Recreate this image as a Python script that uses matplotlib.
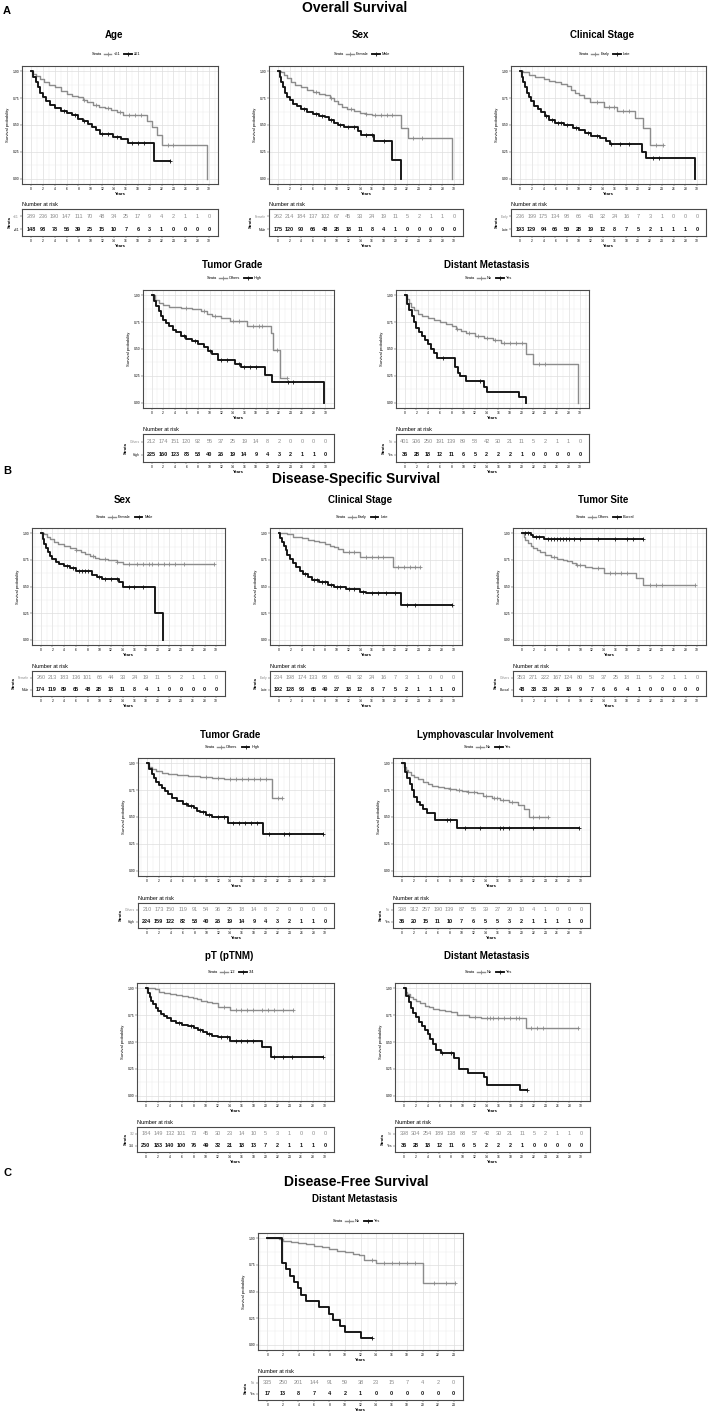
import numpy as np
import matplotlib
matplotlib.use('Agg')
import matplotlib.pyplot as plt
from matplotlib.lines import Line2D
from matplotlib.ticker import MultipleLocator

plt.rcParams['font.family'] = ['Liberation Sans', 'DejaVu Sans']

# ---------------------------------------------------------------- data
# Overall survival - Age
os_age_labels = ['<61', '≥61']
os_age_t1 = [0, 0.3, 0.8, 1.5, 2.2, 3, 4, 5, 6, 7, 8, 8.7, 9.5, 10.5, 11.5, 12.5, 13.5, 14.5, 15.5, 19.6, 20.4, 21.2, 22, 29.7]
os_age_s1 = [1.0, 0.98, 0.96, 0.93, 0.90, 0.87, 0.85, 0.82, 0.79, 0.77, 0.76, 0.73, 0.71, 0.69, 0.67, 0.66, 0.64, 0.62, 0.59, 0.54, 0.48, 0.41, 0.31, 0.0]
os_age_c1 = [9, 11, 13, 15, 16.5, 17.5, 18.5, 23, 24]
os_age_t2 = [0, 0.4, 0.8, 1.2, 1.6, 2.0, 2.6, 3.2, 4, 5, 6, 7, 8, 8.8, 9.6, 10.3, 11, 11.6, 13.8, 15.2, 16.4, 20.7, 23.5]
os_age_s2 = [1.0, 0.95, 0.90, 0.85, 0.80, 0.76, 0.72, 0.69, 0.66, 0.63, 0.61, 0.59, 0.56, 0.54, 0.51, 0.48, 0.45, 0.42, 0.39, 0.37, 0.33, 0.16, 0.16]
os_age_c2 = [5.5, 7.5, 9, 12, 13, 14.5, 17, 18, 19, 23.5]
os_age_r1 = [289, 236, 190, 147, 111, 70, 48, 34, 25, 17, 9, 4, 2, 1, 1, 0]
os_age_r2 = [148, 98, 78, 56, 39, 25, 15, 10, 7, 6, 3, 1, 0, 0, 0, 0]

# Overall survival - Sex
os_sex_labels = ['Female', 'Male']
os_sex_t1 = [0, 0.5, 1, 1.5, 2.2, 3, 4, 5, 6, 7, 8, 8.8, 9.5, 10.3, 11, 11.8, 13, 14, 15, 16, 20.9, 22.2, 29.7]
os_sex_s1 = [1, 0.99, 0.97, 0.94, 0.90, 0.87, 0.85, 0.83, 0.81, 0.79, 0.78, 0.75, 0.72, 0.70, 0.67, 0.65, 0.63, 0.61, 0.60, 0.59, 0.47, 0.38, 0]
os_sex_c1 = [6.5, 9, 12.5, 15, 16.5, 17.5, 18.5, 19.5, 23, 24.5]
os_sex_t2 = [0, 0.3, 0.6, 0.9, 1.2, 1.6, 2, 2.6, 3.2, 4, 5, 6, 7, 8, 8.7, 9.5, 10.3, 11.2, 13.6, 14.2, 16.4, 19.5, 20.9]
os_sex_s2 = [1, 0.95, 0.90, 0.85, 0.80, 0.76, 0.73, 0.70, 0.68, 0.65, 0.62, 0.60, 0.58, 0.57, 0.55, 0.52, 0.50, 0.48, 0.44, 0.41, 0.35, 0.17, 0]
os_sex_c2 = [4.5, 6.5, 7.5, 9, 10.5, 12, 13, 15, 16, 18]
os_sex_r1 = [262, 214, 184, 137, 102, 67, 45, 33, 24, 19, 11, 5, 2, 1, 1, 0]
os_sex_r2 = [175, 120, 90, 66, 48, 28, 18, 11, 8, 4, 1, 0, 0, 0, 0, 0]

# Overall survival - Clinical stage
os_stage_labels = ['Early', 'Late']
os_stage_t1 = [0, 0.5, 1.5, 2.5, 4, 5, 6, 7, 8, 8.7, 9.3, 10, 10.8, 11.8, 14.2, 16.4, 19.5, 20.8, 22, 24.2]
os_stage_s1 = [1, 0.99, 0.97, 0.95, 0.93, 0.91, 0.90, 0.88, 0.86, 0.83, 0.80, 0.78, 0.75, 0.71, 0.67, 0.635, 0.565, 0.47, 0.315, 0.315]
os_stage_c1 = [13, 15, 16, 17.5, 18.5, 23, 24.2]
os_stage_t2 = [0, 0.3, 0.6, 0.9, 1.2, 1.5, 1.9, 2.4, 3, 3.6, 4.2, 5, 6, 7.5, 9, 10, 11, 12, 13.5, 14.6, 15.2, 20.7, 21.4, 29.7]
os_stage_s2 = [1, 0.95, 0.90, 0.85, 0.80, 0.76, 0.72, 0.68, 0.65, 0.62, 0.58, 0.55, 0.52, 0.50, 0.47, 0.45, 0.43, 0.40, 0.38, 0.355, 0.325, 0.25, 0.19, 0]
os_stage_c2 = [4.5, 5.5, 6.5, 7, 8, 9.5, 11.5, 13, 15.5, 17, 18.5, 22.5, 23.5]
os_stage_r1 = [236, 199, 175, 134, 98, 66, 43, 32, 24, 16, 7, 3, 1, 0, 0, 0]
os_stage_r2 = [193, 129, 94, 66, 50, 28, 19, 12, 8, 7, 5, 2, 1, 1, 1, 0]

# Overall survival - Tumor grade
os_grade_labels = ['Others', 'High']
os_grade_t1 = [0, 0.5, 1.2, 2, 3, 5, 7, 8.5, 9.5, 10.5, 12, 13.5, 16.5, 20.7, 21, 22.2, 23.3]
os_grade_s1 = [1, 0.96, 0.93, 0.91, 0.89, 0.88, 0.87, 0.85, 0.83, 0.81, 0.79, 0.76, 0.71, 0.65, 0.49, 0.23, 0.23]
os_grade_c1 = [6, 9, 11, 14, 15, 17.5, 18.5, 19, 21.7, 23.3]
os_grade_t2 = [0, 0.4, 0.8, 1.2, 1.6, 2, 2.5, 3, 3.6, 4.2, 5, 6, 7, 8, 9, 9.8, 10.5, 11.4, 14.4, 15.4, 19.6, 20.8, 29.7]
os_grade_s2 = [1, 0.95, 0.90, 0.85, 0.81, 0.77, 0.74, 0.71, 0.68, 0.66, 0.62, 0.59, 0.57, 0.55, 0.52, 0.48, 0.45, 0.40, 0.36, 0.33, 0.26, 0.195, 0]
os_grade_c2 = [5.5, 7.5, 10, 12, 13, 15, 16, 17, 18, 23.5, 24.5]
os_grade_r1 = [212, 174, 151, 120, 92, 55, 37, 25, 19, 14, 8, 2, 0, 0, 0, 0]
os_grade_r2 = [225, 160, 123, 83, 58, 40, 26, 19, 14, 9, 4, 3, 2, 1, 1, 0]

# Overall survival - Distant metastasis
os_dm_labels = ['No', 'Yes']
os_dm_t1 = [0, 0.3, 0.7, 1.1, 1.5, 2.2, 3, 4, 5, 6, 7, 8, 8.8, 9.6, 10.5, 12, 13.5, 15, 16.5, 20.7, 22, 29.7]
os_dm_s1 = [1, 0.97, 0.93, 0.89, 0.86, 0.83, 0.81, 0.79, 0.77, 0.75, 0.73, 0.71, 0.69, 0.67, 0.65, 0.62, 0.60, 0.585, 0.56, 0.455, 0.36, 0]
os_dm_c1 = [9, 11, 12.5, 14, 15.5, 17, 18, 19, 20, 23, 24]
os_dm_t2 = [0, 0.4, 0.8, 1.2, 1.6, 2, 2.5, 3, 3.5, 4, 4.5, 5, 5.5, 8.6, 9.1, 9.5, 10.5, 13.6, 14, 19.5, 20.7]
os_dm_s2 = [1, 0.92, 0.86, 0.81, 0.75, 0.70, 0.66, 0.62, 0.58, 0.55, 0.50, 0.46, 0.42, 0.33, 0.28, 0.245, 0.205, 0.15, 0.10, 0.05, 0.0]
os_dm_c2 = [6.5, 12.8]
os_dm_r1 = [401, 306, 250, 191, 139, 89, 58, 42, 30, 21, 11, 5, 2, 1, 1, 0]
os_dm_r2 = [36, 28, 18, 12, 11, 6, 5, 2, 2, 2, 1, 0, 0, 0, 0, 0]

# Disease-specific survival - Sex
dss_sex_labels = ['Female', 'Male']
dss_sex_t1 = [0, 0.5, 1, 1.5, 2.2, 3, 4, 5, 6, 6.8, 7.6, 8.4, 9.2, 10, 11.5, 13, 14, 29.7]
dss_sex_s1 = [1, 0.99, 0.97, 0.95, 0.92, 0.90, 0.88, 0.86, 0.84, 0.82, 0.81, 0.79, 0.77, 0.76, 0.745, 0.73, 0.715, 0.715]
dss_sex_c1 = [6, 9, 11, 13, 15, 16.5, 17.5, 18.5, 19, 20, 21, 22, 23, 24.5, 29.7]
dss_sex_t2 = [0, 0.3, 0.6, 0.9, 1.2, 1.6, 2, 2.6, 3.2, 4, 5, 6, 8.7, 9.6, 10.4, 13.4, 14, 19.5, 20.9]
dss_sex_s2 = [1, 0.95, 0.90, 0.86, 0.82, 0.79, 0.76, 0.73, 0.71, 0.69, 0.67, 0.65, 0.61, 0.59, 0.575, 0.54, 0.495, 0.25, 0]
dss_sex_c2 = [4.5, 5.5, 6.5, 7, 7.5, 8, 10, 11, 12, 13, 15, 16, 17.5]
dss_sex_r1 = [260, 213, 183, 136, 101, 66, 44, 33, 24, 19, 11, 5, 2, 1, 1, 0]
dss_sex_r2 = [174, 119, 89, 65, 48, 28, 18, 11, 8, 4, 1, 0, 0, 0, 0, 0]

# Disease-specific survival - Clinical stage
dss_stage_labels = ['Early', 'Late']
dss_stage_t1 = [0, 1.5, 2.5, 4, 5, 6, 7, 8, 8.8, 9.5, 10.2, 11, 14, 19.6, 24.2]
dss_stage_s1 = [1, 0.99, 0.97, 0.96, 0.94, 0.93, 0.92, 0.90, 0.88, 0.87, 0.85, 0.825, 0.775, 0.68, 0.68]
dss_stage_c1 = [12, 13, 15, 16, 17, 18, 20.5, 21.5, 22.5, 23.5, 24.2]
dss_stage_t2 = [0, 0.3, 0.6, 0.9, 1.2, 1.5, 1.9, 2.4, 3, 3.6, 4.2, 5, 5.7, 7, 8.5, 9.5, 11.5, 14, 15, 21, 29.7]
dss_stage_s2 = [1, 0.96, 0.92, 0.88, 0.84, 0.80, 0.76, 0.72, 0.68, 0.65, 0.62, 0.59, 0.56, 0.545, 0.515, 0.50, 0.48, 0.45, 0.44, 0.33, 0.33]
dss_stage_c2 = [4.5, 6, 6.5, 7.5, 8, 9, 10, 10.5, 12, 13, 14.5, 16, 17, 18.5, 20, 22, 23.5, 29.7]
dss_stage_r1 = [234, 198, 174, 133, 98, 66, 43, 32, 24, 16, 7, 3, 1, 0, 0, 0]
dss_stage_r2 = [192, 128, 93, 65, 49, 27, 18, 12, 8, 7, 5, 2, 1, 1, 1, 0]

# Disease-specific survival - Tumor site
dss_site_labels = ['Others', 'Buccal']
dss_site_t1 = [0, 0.3, 0.6, 1, 1.5, 2, 2.6, 3.2, 4, 5, 6, 7, 7.8, 8.6, 9.2, 10.8, 12, 14, 19.5, 20.8, 29.7]
dss_site_s1 = [1, 0.97, 0.94, 0.91, 0.88, 0.86, 0.84, 0.82, 0.80, 0.78, 0.76, 0.75, 0.74, 0.72, 0.70, 0.685, 0.67, 0.625, 0.58, 0.51, 0.51]
dss_site_c1 = [5.5, 9.5, 10, 13, 15, 16, 17, 18, 22, 23, 24, 29.7]
dss_site_t2 = [0, 1.6, 1.9, 3.8, 20.8]
dss_site_s2 = [1, 0.985, 0.97, 0.95, 0.95]
dss_site_c2 = [0.5, 1, 2.5, 3, 4.5, 5, 5.5, 6, 6.5, 7, 7.5, 8, 9, 10, 13, 16, 18, 19, 20.8]
dss_site_r1 = [353, 271, 222, 167, 124, 80, 53, 37, 25, 18, 11, 5, 2, 1, 1, 0]
dss_site_r2 = [48, 38, 33, 24, 18, 9, 7, 6, 6, 4, 1, 0, 0, 0, 0, 0]

# Disease-specific survival - Tumor grade
dss_grade_labels = ['Others', 'High']
dss_grade_t1 = [0, 0.4, 0.8, 1.5, 2.5, 3.5, 5, 7, 9, 11, 13, 21, 22.8]
dss_grade_s1 = [1, 0.97, 0.95, 0.93, 0.91, 0.90, 0.89, 0.88, 0.87, 0.86, 0.85, 0.68, 0.68]
dss_grade_c1 = [10, 12, 14, 15, 16, 17, 18, 19, 20, 22, 22.8]
dss_grade_t2 = [0, 0.4, 0.8, 1.2, 1.6, 2, 2.5, 3, 3.6, 4.2, 5, 6, 7, 8, 8.5, 9, 10, 11, 13.7, 19.6, 29.7]
dss_grade_s2 = [1, 0.95, 0.90, 0.86, 0.83, 0.80, 0.77, 0.74, 0.71, 0.68, 0.65, 0.62, 0.60, 0.585, 0.56, 0.55, 0.52, 0.50, 0.44, 0.34, 0.34]
dss_grade_c2 = [6.5, 7.5, 9.5, 10.5, 12, 13, 14.5, 15.5, 16.5, 17.5, 18.5, 20.5, 23, 24, 29.7]
dss_grade_r1 = [210, 173, 150, 119, 91, 54, 36, 25, 18, 14, 8, 2, 0, 0, 0, 0]
dss_grade_r2 = [224, 159, 122, 82, 58, 40, 26, 19, 14, 9, 4, 3, 2, 1, 1, 0]

# Disease-specific survival - Lymphovascular involvement
dss_lvi_labels = ['No', 'Yes']
dss_lvi_t1 = [0, 0.3, 0.6, 1, 1.5, 2, 2.7, 3.5, 4.3, 5, 6, 7, 8, 9, 10, 11, 12.5, 13.5, 15, 16.5, 18, 19.5, 20.5, 21.3, 24.5]
dss_lvi_s1 = [1, 0.97, 0.94, 0.92, 0.89, 0.87, 0.85, 0.83, 0.81, 0.79, 0.78, 0.77, 0.76, 0.75, 0.74, 0.73, 0.72, 0.70, 0.68, 0.66, 0.64, 0.61, 0.57, 0.50, 0.50]
dss_lvi_c1 = [8, 9.5, 11, 12, 14, 15.5, 16, 17, 18.5, 22, 23, 24.5]
dss_lvi_t2 = [0, 0.5, 0.9, 1.3, 1.6, 2, 2.5, 3, 3.5, 4.2, 5.5, 9.3, 29.7]
dss_lvi_s2 = [1, 0.92, 0.86, 0.81, 0.75, 0.69, 0.64, 0.61, 0.575, 0.54, 0.47, 0.40, 0.40]
dss_lvi_c2 = [7.5, 8, 10.5, 13, 16.5, 17, 18, 22, 29.7]
dss_lvi_r1 = [398, 312, 257, 190, 139, 87, 56, 39, 27, 20, 10, 4, 1, 0, 0, 0]
dss_lvi_r2 = [36, 20, 15, 11, 10, 7, 6, 5, 5, 3, 2, 1, 1, 1, 1, 0]

# Disease-specific survival - pT (pTNM)
dss_pt_labels = ['1/2', '3/4']
dss_pt_t1 = [0, 1.5, 2.2, 3, 4, 5, 6, 7, 7.8, 8.6, 9.3, 10.2, 11, 12, 14, 24.7]
dss_pt_s1 = [1, 0.99, 0.97, 0.96, 0.95, 0.94, 0.93, 0.92, 0.91, 0.90, 0.88, 0.87, 0.86, 0.83, 0.80, 0.80]
dss_pt_c1 = [13, 15, 16, 17, 18, 19.5, 20.5, 21.5, 23, 24.7]
dss_pt_t2 = [0, 0.3, 0.6, 0.9, 1.2, 1.6, 2, 2.5, 3, 3.6, 4.2, 5, 6, 7, 8, 8.8, 9.5, 10.3, 11, 12, 14, 19.5, 21, 29.7]
dss_pt_s2 = [1, 0.96, 0.92, 0.88, 0.85, 0.82, 0.79, 0.76, 0.74, 0.72, 0.70, 0.68, 0.66, 0.645, 0.63, 0.61, 0.59, 0.575, 0.56, 0.55, 0.51, 0.45, 0.36, 0.36]
dss_pt_c2 = [5.5, 7.5, 9, 10.5, 12.5, 13.5, 15, 16, 17, 18, 21.5, 23, 24.5, 29.7]
dss_pt_r1 = [184, 149, 132, 101, 73, 45, 30, 23, 14, 10, 5, 3, 1, 0, 0, 0]
dss_pt_r2 = [250, 183, 140, 100, 76, 49, 32, 21, 18, 13, 7, 2, 1, 1, 1, 0]

# Disease-specific survival - Distant metastasis
dss_dm_labels = ['No', 'Yes']
dss_dm_t1 = [0, 0.3, 0.6, 1, 1.5, 2, 2.7, 3.5, 4.3, 5, 6, 7, 8, 9, 10, 11, 13, 20.6, 29.5]
dss_dm_s1 = [1, 0.97, 0.95, 0.92, 0.90, 0.88, 0.86, 0.84, 0.83, 0.81, 0.80, 0.79, 0.78, 0.755, 0.75, 0.735, 0.72, 0.63, 0.63]
dss_dm_c1 = [12, 14, 14.5, 15, 16, 17, 18, 19, 19.5, 21.5, 22.5, 23.5, 29.5]
dss_dm_t2 = [0, 0.4, 0.8, 1.2, 1.6, 2, 2.5, 3, 3.5, 4, 4.5, 5, 5.5, 6.2, 8.5, 9.3, 10.8, 13.5, 14, 19.6, 20.8]
dss_dm_s2 = [1, 0.93, 0.87, 0.82, 0.77, 0.73, 0.69, 0.65, 0.61, 0.57, 0.53, 0.48, 0.43, 0.40, 0.35, 0.25, 0.21, 0.17, 0.10, 0.05, 0.05]
dss_dm_c2 = [6.5, 8, 20.8]
dss_dm_r1 = [398, 304, 254, 189, 138, 88, 57, 42, 30, 21, 11, 5, 2, 1, 1, 0]
dss_dm_r2 = [36, 28, 18, 12, 11, 6, 5, 2, 2, 2, 1, 0, 0, 0, 0, 0]

# Disease-free survival - Distant metastasis
dfs_dm_labels = ['No', 'Yes']
dfs_dm_t1 = [0, 1.5, 2, 3, 4, 5, 6, 7, 8, 9, 10, 11, 11.8, 12.5, 14, 20, 24.2]
dfs_dm_s1 = [1, 0.99, 0.975, 0.965, 0.955, 0.945, 0.93, 0.915, 0.90, 0.885, 0.87, 0.855, 0.84, 0.80, 0.77, 0.58, 0.58]
dfs_dm_c1 = [13.5, 15, 16, 17, 18, 19, 21.5, 23, 24.2]
dfs_dm_t2 = [0, 1.9, 2.4, 2.9, 3.4, 3.9, 4.4, 5, 6.6, 7.9, 8.5, 9.3, 10, 12, 13.5]
dfs_dm_s2 = [1, 0.765, 0.71, 0.65, 0.59, 0.53, 0.47, 0.41, 0.35, 0.29, 0.235, 0.18, 0.12, 0.06, 0.06]
dfs_dm_c2 = [13.5]
dfs_dm_r1 = [335, 250, 201, 144, 91, 59, 38, 23, 15, 7, 4, 2, 0]
dfs_dm_r2 = [17, 13, 8, 7, 4, 2, 1, 0, 0, 0, 0, 0, 0]

# ---------------------------------------------------------------- layout
W, H = 709, 1415
GRAY = '#8c8c8c'
BLACK = '#111111'
fig = plt.figure(figsize=(W / 100, H / 100), dpi=100)
fig.patch.set_facecolor('white')


def fbox(l, t, r, b):
    return [l / W, 1 - b / H, (r - l) / W, (b - t) / H]


ROWS = {
    1: dict(ty=35, ly=54, pt=66, pb=184, rt=209, rb=236),
    2: dict(ty=265, ly=278, pt=290, pb=408, rt=434, rb=462),
    3: dict(ty=500, ly=517, pt=528, pb=645, rt=671, rb=696),
    4: dict(ty=735, ly=747, pt=758, pb=876, rt=903, rb=928),
    5: dict(ty=956, ly=972, pt=983, pb=1101, rt=1127, rb=1152),
    6: dict(ty=1199, ly=1221, pt=1233, pb=1350, rt=1376, rb=1400),
}

legends = []


def step_values(t, s, ct):
    t = np.asarray(t, float)
    s = np.asarray(s, float)
    idx = np.searchsorted(t, np.asarray(ct, float), side='right') - 1
    idx = np.clip(idx, 0, len(s) - 1)
    return s[idx]


def panel(row, xl, xr, title, labels, t1, s1, c1, t2, s2, c2, r1, r2, xmax=30):
    R = ROWS[row]
    pad = xmax * 0.05
    cx = (xl + xr) / 2 - 6
    ax = fig.add_axes(fbox(xl, R['pt'], xr, R['pb']))
    ax.set_axisbelow(True)
    for t, s, c, col, lw in [(t1, s1, c1, GRAY, 1.0), (t2, s2, c2, BLACK, 1.35)]:
        ax.step(t, s, where='post', color=col, lw=lw, zorder=3)
        ax.plot(c, step_values(t, s, c), ls='none', marker='+', ms=2.4,
                mew=0.6, color=col, zorder=4)
    ax.set_xlim(-pad, xmax + pad)
    ax.set_ylim(-0.05, 1.05)
    ax.set_xticks(np.arange(0, xmax + 1, 2))
    ax.xaxis.set_minor_locator(MultipleLocator(1))
    ax.set_yticks([0, 0.25, 0.5, 0.75, 1.0])
    ax.set_yticklabels(['0.00', '0.25', '0.50', '0.75', '1.00'])
    ax.yaxis.set_minor_locator(MultipleLocator(0.125))
    ax.grid(which='major', color='#dedede', lw=0.5)
    ax.grid(which='minor', color='#ececec', lw=0.35)
    ax.tick_params(which='major', labelsize=2.4, length=1.3, width=0.35, pad=0.8, color='#444')
    ax.tick_params(which='minor', length=0)
    for sp in ax.spines.values():
        sp.set_color('#4a4a4a')
        sp.set_linewidth(0.8)
    ax.set_ylabel('Survival probability', fontsize=3, labelpad=1.5)
    ax.set_xlabel('Years', fontsize=3, weight='bold', labelpad=0.6)

    fig.text(cx / W, 1 - R['ty'] / H, title, ha='center', va='center',
             fontsize=7, weight='bold')

    handles = [Line2D([], [], color=GRAY, lw=1.0, marker='+', ms=2.4, mew=0.6),
               Line2D([], [], color=BLACK, lw=1.35, marker='+', ms=2.4, mew=0.6)]
    leg = fig.legend(handles, labels, loc='center', ncol=2,
                     bbox_to_anchor=((cx + 8) / W, 1 - R['ly'] / H),
                     bbox_transform=fig.transFigure, frameon=False,
                     fontsize=2.8, handlelength=2.0, handletextpad=0.5,
                     columnspacing=1.0, borderpad=0)
    legends.append((leg, R['ly']))

    # risk table
    rx = fig.add_axes(fbox(xl, R['rt'], xr, R['rb']))
    rx.set_xlim(-pad, xmax + pad)
    rx.set_ylim(0.47, 2.58)
    ticks = np.arange(0, xmax + 1, 2)
    for x, v1, v2 in zip(ticks, r1, r2):
        rx.text(x, 2, str(v1), color=GRAY, fontsize=4.0, ha='center', va='center')
        rx.text(x, 1, str(v2), color=BLACK, fontsize=4.0, weight='bold',
                ha='center', va='center')
    rx.set_xticks(ticks)
    rx.set_yticks([1, 2])
    rx.set_yticklabels([labels[1], labels[0]])
    for lab, col in zip(rx.get_yticklabels(), [BLACK, GRAY]):
        lab.set_color(col)
    rx.tick_params(labelsize=2.4, length=1.3, width=0.35, pad=0.8, color='#444')
    for sp in rx.spines.values():
        sp.set_color('#4a4a4a')
        sp.set_linewidth(0.8)
    rx.set_ylabel('Strata', fontsize=3, weight='bold', labelpad=1.2)
    rx.set_xlabel('Years', fontsize=3, weight='bold', labelpad=0.6)
    fig.text(xl / W, 1 - (R['rt'] - 2) / H, 'Number at risk', ha='left',
             va='bottom', fontsize=4.0)


# section labels
fig.text(355 / W, 1 - 8 / H, 'Overall Survival', ha='center', va='center', fontsize=10, weight='bold')
fig.text(356 / W, 1 - 479 / H, 'Disease-Specific Survival', ha='center', va='center', fontsize=10, weight='bold')
fig.text(356 / W, 1 - 1182 / H, 'Disease-Free Survival', ha='center', va='center', fontsize=10, weight='bold')
fig.text(3 / W, 1 - 11 / H, 'A', ha='left', va='center', fontsize=8, weight='bold')
fig.text(3 / W, 1 - 471 / H, 'B', ha='left', va='center', fontsize=8, weight='bold')
fig.text(3 / W, 1 - 1173 / H, 'C', ha='left', va='center', fontsize=8, weight='bold')

panel(1, 22, 218, 'Age', os_age_labels, os_age_t1, os_age_s1, os_age_c1,
      os_age_t2, os_age_s2, os_age_c2, os_age_r1, os_age_r2)
panel(1, 269, 463, 'Sex', os_sex_labels, os_sex_t1, os_sex_s1, os_sex_c1,
      os_sex_t2, os_sex_s2, os_sex_c2, os_sex_r1, os_sex_r2)
panel(1, 511, 706, 'Clinical Stage', os_stage_labels, os_stage_t1, os_stage_s1, os_stage_c1,
      os_stage_t2, os_stage_s2, os_stage_c2, os_stage_r1, os_stage_r2)
panel(2, 143, 334, 'Tumor Grade', os_grade_labels, os_grade_t1, os_grade_s1, os_grade_c1,
      os_grade_t2, os_grade_s2, os_grade_c2, os_grade_r1, os_grade_r2)
panel(2, 396, 589, 'Distant Metastasis', os_dm_labels, os_dm_t1, os_dm_s1, os_dm_c1,
      os_dm_t2, os_dm_s2, os_dm_c2, os_dm_r1, os_dm_r2)
panel(3, 32, 225, 'Sex', dss_sex_labels, dss_sex_t1, dss_sex_s1, dss_sex_c1,
      dss_sex_t2, dss_sex_s2, dss_sex_c2, dss_sex_r1, dss_sex_r2)
panel(3, 270, 462, 'Clinical Stage', dss_stage_labels, dss_stage_t1, dss_stage_s1, dss_stage_c1,
      dss_stage_t2, dss_stage_s2, dss_stage_c2, dss_stage_r1, dss_stage_r2)
panel(3, 513, 706, 'Tumor Site', dss_site_labels, dss_site_t1, dss_site_s1, dss_site_c1,
      dss_site_t2, dss_site_s2, dss_site_c2, dss_site_r1, dss_site_r2)
panel(4, 138, 334, 'Tumor Grade', dss_grade_labels, dss_grade_t1, dss_grade_s1, dss_grade_c1,
      dss_grade_t2, dss_grade_s2, dss_grade_c2, dss_grade_r1, dss_grade_r2)
panel(4, 393, 590, 'Lymphovascular Involvement', dss_lvi_labels, dss_lvi_t1, dss_lvi_s1, dss_lvi_c1,
      dss_lvi_t2, dss_lvi_s2, dss_lvi_c2, dss_lvi_r1, dss_lvi_r2)
panel(5, 137, 334, 'pT (pTNM)', dss_pt_labels, dss_pt_t1, dss_pt_s1, dss_pt_c1,
      dss_pt_t2, dss_pt_s2, dss_pt_c2, dss_pt_r1, dss_pt_r2)
panel(5, 395, 590, 'Distant Metastasis', dss_dm_labels, dss_dm_t1, dss_dm_s1, dss_dm_c1,
      dss_dm_t2, dss_dm_s2, dss_dm_c2, dss_dm_r1, dss_dm_r2)
panel(6, 258, 463, 'Distant Metastasis', dfs_dm_labels, dfs_dm_t1, dfs_dm_s1, dfs_dm_c1,
      dfs_dm_t2, dfs_dm_s2, dfs_dm_c2, dfs_dm_r1, dfs_dm_r2, xmax=24)

# "Strata" label placed just left of each legend
fig.canvas.draw()
for leg, ly in legends:
    bb = leg.get_window_extent()
    fig.text((bb.x0 - 2) / W, 1 - ly / H, 'Strata', ha='right', va='center', fontsize=2.8)

fig.savefig('out.png', dpi=100, facecolor='white')
